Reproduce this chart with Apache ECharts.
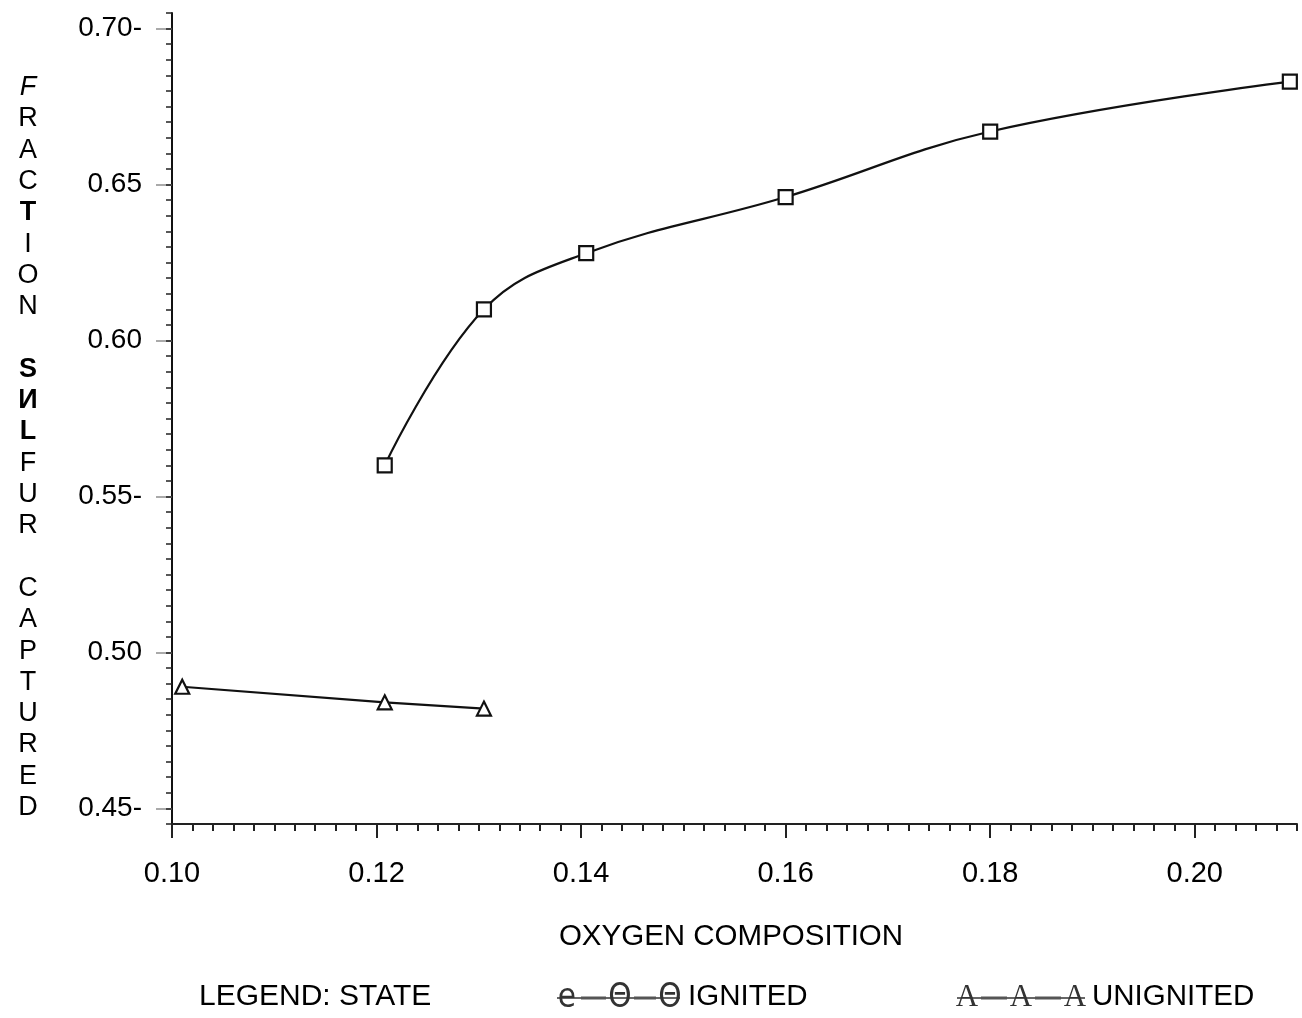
<!DOCTYPE html>
<html>
<head>
<meta charset="utf-8">
<script src="https://cdn.jsdelivr.net/npm/echarts@6/dist/echarts.min.js"></script>
<style>
html,body{margin:0;padding:0;background:#fff;}
#chart{width:1302px;height:1018px;}
</style>
</head>
<body>
<div id="chart"></div>
<script>
// ---- data ----
const ignitedX = [0.1208, 0.1305, 0.1405, 0.160, 0.180, 0.2093];
const ignitedY = [0.560, 0.610, 0.628, 0.646, 0.667, 0.683];
const unignitedX = [0.101, 0.1208, 0.1305];
const unignitedY = [0.489, 0.484, 0.482];
const xTickLabels = [0.10, 0.12, 0.14, 0.16, 0.18, 0.20];
const yTickLabels = [0.45, 0.50, 0.55, 0.60, 0.65, 0.70];
const yDashLabels = ['0.45', '0.55', '0.70'];
const yTitleText = '{i|F}\nR\nA\nC\n{b|T}\nI\nO\nN\n\n{b|S}\n{b|И}\n{b|L}\nF\nU\nR\n\nC\nA\nP\nT\nU\nR\nE\nD';
const xTitle = 'OXYGEN COMPOSITION';
const legendTitle = 'LEGEND: STATE';
const legendIgnited = 'IGNITED';
const legendUnignited = 'UNIGNITED';
const legendIgnitedGlyphs = ['e', 'Θ', 'Θ'];
const legendUnignitedGlyphs = ['A', 'A', 'A'];

const FONT = '"Liberation Sans", Arial, sans-serif';

const yMinor = [];
for (let i = 0; i <= 52; i++) yMinor.push((445 + 5 * i) / 1000);
const xMinor = [];
for (let i = 0; i <= 55; i++) xMinor.push((100 + 2 * i) / 1000);

const chart = echarts.init(document.getElementById('chart'), null, {renderer: 'canvas'});

const yAxisBase = {type: 'value', min: 0.445, max: 0.705, position: 'left', splitLine: {show: false}};
const xAxisBase = {type: 'value', min: 0.10, max: 0.21, position: 'bottom', splitLine: {show: false}};

function pairs(xs, ys) { return xs.map((x, i) => [x, ys[i]]); }

function glyphRow(glyphs, xs, font, lineX1, lineX2) {
  const els = [{type: 'line', z: 1, shape: {x1: lineX1, y1: 998, x2: lineX2, y2: 998}, style: {stroke: '#333', lineWidth: 1.5}}];
  for (let i = 0; i < xs.length - 1; i++) {
    els.push({type: 'line', z: 1, shape: {x1: xs[i] + 14, y1: 998, x2: xs[i + 1] - 14, y2: 998}, style: {stroke: '#555', lineWidth: 3}});
  }
  glyphs.forEach((g, i) => {
    els.push({type: 'text', z: 2, x: xs[i], y: 998, style: {text: g, fill: '#333', font: font,
      align: 'center', textAlign: 'center', verticalAlign: 'middle', textVerticalAlign: 'middle'}});
  });
  return els;
}

const option = {
  backgroundColor: '#fff',
  animation: false,
  grid: {left: 172, top: 13, width: 1125, height: 811, containLabel: false},
  xAxis: [
    Object.assign({}, xAxisBase, {
      axisLine: {show: true, lineStyle: {color: '#222', width: 2}},
      axisTick: {show: true, inside: false, length: 14, lineStyle: {color: '#222', width: 2}, customValues: xTickLabels},
      axisLabel: {show: true, margin: 35, color: '#000', fontFamily: FONT, fontSize: 29,
        customValues: xTickLabels, formatter: v => v.toFixed(2)}
    }),
    Object.assign({}, xAxisBase, {
      axisLine: {show: false},
      axisTick: {show: true, inside: false, length: 7, lineStyle: {color: '#222', width: 2}, customValues: xMinor},
      axisLabel: {show: false}
    })
  ],
  yAxis: [
    Object.assign({}, yAxisBase, {
      axisLine: {show: true, lineStyle: {color: '#111', width: 2}},
      axisTick: {show: true, inside: false, length: 16, lineStyle: {color: '#aaa', width: 2}, customValues: yTickLabels},
      axisLabel: {show: true, margin: 30, color: '#000', fontFamily: FONT, fontSize: 28,
        customValues: yTickLabels,
        formatter: v => { const s = v.toFixed(2); return yDashLabels.indexOf(s) >= 0 ? s + '-' : s; }}
    }),
    Object.assign({}, yAxisBase, {
      axisLine: {show: false},
      axisTick: {show: true, inside: false, length: 6, lineStyle: {color: '#222', width: 1.5}, customValues: yMinor},
      axisLabel: {show: false}
    })
  ],
  series: [
    {
      name: 'IGNITED', type: 'line', xAxisIndex: 0, yAxisIndex: 0,
      data: pairs(ignitedX, ignitedY),
      smooth: 0.4,
      symbol: 'rect', symbolSize: 14,
      itemStyle: {color: '#fff', borderColor: '#111', borderWidth: 2.2},
      lineStyle: {color: '#111', width: 2.2}
    },
    {
      name: 'UNIGNITED', type: 'line', xAxisIndex: 0, yAxisIndex: 0,
      data: pairs(unignitedX, unignitedY),
      smooth: false,
      symbol: 'triangle', symbolSize: 14,
      itemStyle: {color: '#fff', borderColor: '#111', borderWidth: 2.2},
      lineStyle: {color: '#111', width: 2.2}
    }
  ],
  graphic: [
    {type: 'text', x: 28, y: 72, style: {
      text: yTitleText, fill: '#000', font: '27px ' + FONT,
      align: 'center', textAlign: 'center', verticalAlign: 'top', textVerticalAlign: 'top',
      lineHeight: 31.3,
      rich: {
        i: {fontStyle: 'italic', fontSize: 27, fontFamily: FONT, lineHeight: 31.3, fill: '#000'},
        b: {fontWeight: 'bold', fontSize: 27, fontFamily: FONT, lineHeight: 31.3, fill: '#000'}
      }
    }},
    {type: 'text', x: 731, y: 937, style: {
      text: xTitle, fill: '#000', font: '29.5px ' + FONT,
      align: 'center', textAlign: 'center', verticalAlign: 'middle', textVerticalAlign: 'middle'
    }},
    {type: 'text', x: 199, y: 997, style: {
      text: legendTitle, fill: '#000', font: '30px ' + FONT,
      align: 'left', textAlign: 'left', verticalAlign: 'middle', textVerticalAlign: 'middle'
    }}
  ]
    .concat(glyphRow(legendIgnitedGlyphs, [567, 620, 670], '33px "DejaVu Sans Condensed", "DejaVu Sans", sans-serif', 557, 680))
    .concat([{type: 'text', x: 688, y: 997, style: {
      text: legendIgnited, fill: '#000', font: '29.5px ' + FONT,
      align: 'left', textAlign: 'left', verticalAlign: 'middle', textVerticalAlign: 'middle'
    }}])
    .concat(glyphRow(legendUnignitedGlyphs, [967, 1021, 1075], '31px "Liberation Serif", serif', 957, 1085))
    .concat([{type: 'text', x: 1092, y: 997, style: {
      text: legendUnignited, fill: '#000', font: '29.5px ' + FONT,
      align: 'left', textAlign: 'left', verticalAlign: 'middle', textVerticalAlign: 'middle'
    }}])
};
chart.setOption(option);
</script>
</body>
</html>
